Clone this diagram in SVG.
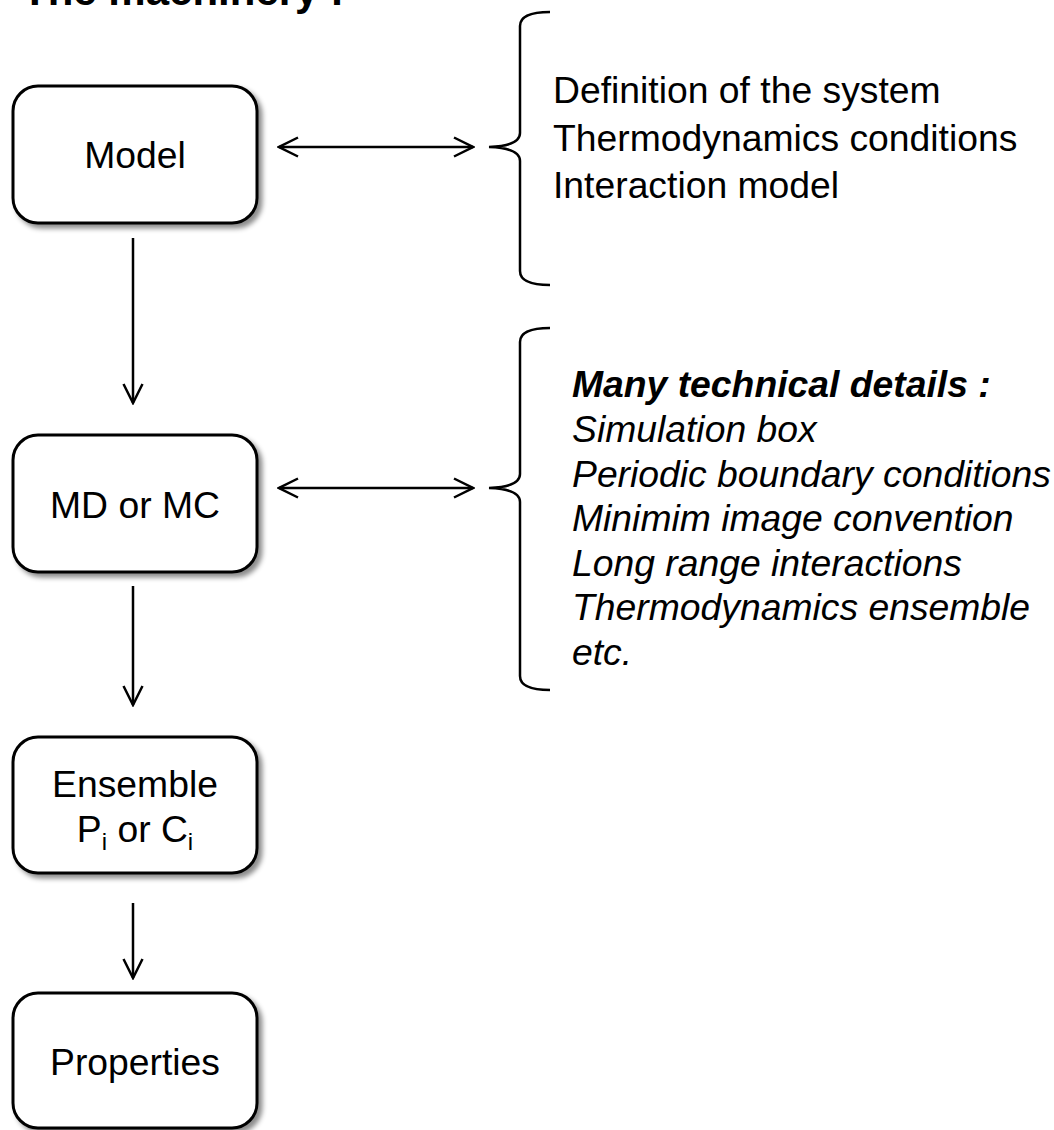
<svg xmlns="http://www.w3.org/2000/svg" width="1054" height="1130" viewBox="0 0 1054 1130">
  <style>
    .box { fill: #ffffff; stroke: #000000; stroke-width: 3; }
    .lbl { font-family: "Liberation Sans", Arial, sans-serif; font-size: 37.3px; fill: #000000; }
    .ctr { text-anchor: middle; }
    .it { font-style: italic; }
    .title { font-family: "Liberation Sans", Arial, sans-serif; font-size: 42px; font-weight: bold; fill: #000000; }
    .wire { fill: none; stroke: #000000; stroke-width: 2.5; }
    .brace { fill: none; stroke: #000000; stroke-width: 2.5; }
  </style>
  <defs>
    <filter id="shadow" x="-10%" y="-10%" width="130%" height="130%">
      <feDropShadow dx="4" dy="4" stdDeviation="2.5" flood-color="#000000" flood-opacity="0.45"/>
    </filter>
    <marker id="vee" viewBox="0 0 24 24" refX="22" refY="12" markerWidth="24" markerHeight="24" markerUnits="userSpaceOnUse" orient="auto-start-reverse">
      <path d="M3,2.5 L22,12 L3,21.5" fill="none" stroke="#000000" stroke-width="2.5" stroke-linejoin="miter"/>
    </marker>
  </defs>

  <rect width="1054" height="1130" fill="#ffffff"/>

  <text class="title" x="22" y="5">The machinery :</text>

  <!-- flow boxes -->
  <g id="node-model">
    <rect class="box" x="13" y="86" width="244" height="137" rx="25" filter="url(#shadow)"/>
    <text class="lbl ctr" x="135" y="168">Model</text>
  </g>
  <g id="node-mdmc">
    <rect class="box" x="13" y="435" width="244" height="137" rx="25" filter="url(#shadow)"/>
    <text class="lbl ctr" x="135" y="518">MD or MC</text>
  </g>
  <g id="node-ensemble">
    <rect class="box" x="13" y="737" width="244" height="136" rx="25" filter="url(#shadow)"/>
    <text class="lbl ctr" x="135" y="797">Ensemble</text>
    <text class="lbl ctr" x="135" y="842">P<tspan font-size="24" dy="8">i</tspan><tspan dy="-8"> or C</tspan><tspan font-size="24" dy="8">i</tspan></text>
  </g>
  <g id="node-properties">
    <rect class="box" x="13" y="993" width="244" height="135" rx="25" filter="url(#shadow)"/>
    <text class="lbl ctr" x="135" y="1075">Properties</text>
  </g>

  <!-- side notes -->
  <g id="note-model">
    <path class="brace" d="M550,12 Q520,12 520,26 L520,133 Q520,146 489,147 Q520,148 520,161 L520,271 Q520,285 550,285"/>
    <text class="lbl" x="553" y="103">Definition of the system</text>
    <text class="lbl" x="553" y="151">Thermodynamics conditions</text>
    <text class="lbl" x="553" y="198">Interaction model</text>
  </g>
  <g id="note-mdmc">
    <path class="brace" d="M550,328 Q520,328 520,342 L520,474 Q520,487 489,488 Q520,489 520,502 L520,676 Q520,690 550,690"/>
    <text class="lbl it" x="572" y="397" font-weight="bold">Many technical details :</text>
    <text class="lbl it" x="572" y="442">Simulation box</text>
    <text class="lbl it" x="572" y="487">Periodic boundary conditions</text>
    <text class="lbl it" x="572" y="531">Minimim image convention</text>
    <text class="lbl it" x="572" y="576">Long range interactions</text>
    <text class="lbl it" x="572" y="620">Thermodynamics ensemble</text>
    <text class="lbl it" x="572" y="665">etc.</text>
  </g>

  <!-- connectors -->
  <g id="connectors">
    <line class="wire" x1="133" y1="238" x2="133" y2="403" marker-end="url(#vee)"/>
    <line class="wire" x1="133" y1="586" x2="133" y2="705" marker-end="url(#vee)"/>
    <line class="wire" x1="133" y1="903" x2="133" y2="978" marker-end="url(#vee)"/>
    <line class="wire" x1="279" y1="147" x2="473" y2="147" marker-start="url(#vee)" marker-end="url(#vee)"/>
    <line class="wire" x1="279" y1="488" x2="473" y2="488" marker-start="url(#vee)" marker-end="url(#vee)"/>
  </g>
</svg>
